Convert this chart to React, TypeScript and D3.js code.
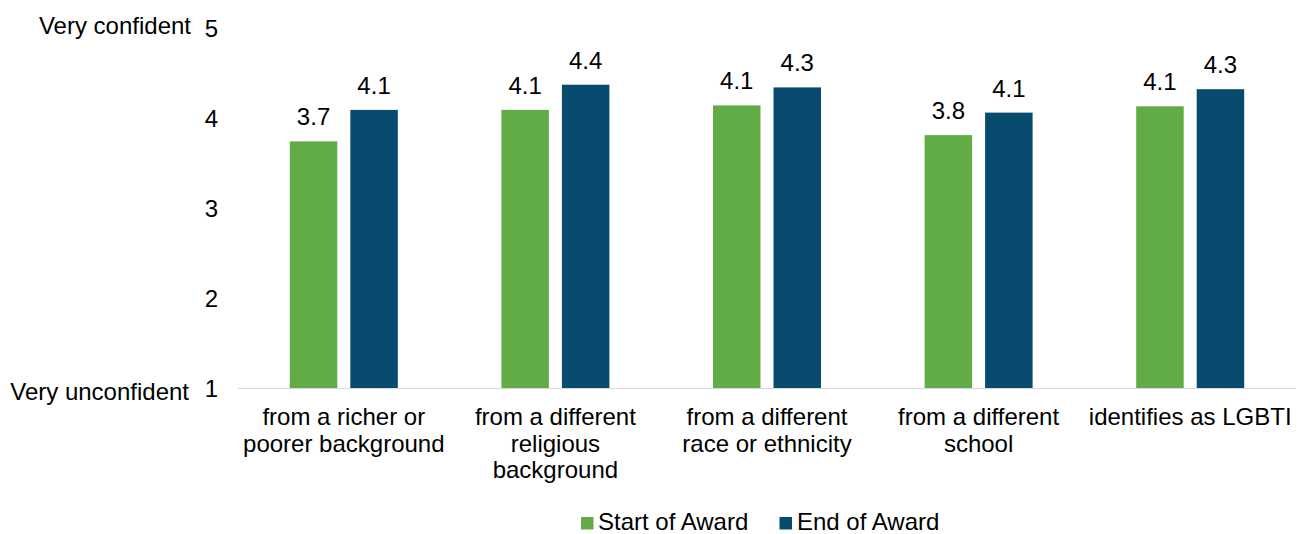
import React from "react";
import * as d3 from "d3";

const categories: string[][] = [
  ["from a richer or", "poorer background"],
  ["from a different", "religious", "background"],
  ["from a different", "race or ethnicity"],
  ["from a different", "school"],
  ["identifies as LGBTI"],
];
const seriesNames = ["Start of Award", "End of Award"];
const startValues = [3.74, 4.09, 4.14, 3.81, 4.13];
const endValues = [4.09, 4.37, 4.34, 4.06, 4.32];
const yTicks = [1, 2, 3, 4, 5];
const yEndLabels = ["Very unconfident", "Very confident"];
const colors = ["#62ac47", "#074b6e"];

const W = 1305;
const H = 534;
const FONT = "'Liberation Sans', Arial, sans-serif";
const FS = 24;

export default function App() {
  const keys = categories.map((_, i) => String(i));
  const x = d3.scaleBand<string>().domain(keys).range([238, 1296]).paddingInner(0).paddingOuter(0);
  const xs = d3.scaleBand<string>().domain(seriesNames).range([-54, 54]).paddingInner(0.215).paddingOuter(0);
  const y = d3.scaleLinear().domain([1, 5]).range([388, 28]);
  const fmt = d3.format(".1f");
  const series = [startValues, endValues];

  return (
    <svg width={W} height={H} style={{ position: "absolute", left: 0, top: 0, background: "#fff" }} fontFamily={FONT}>
      {/* y tick labels */}
      {yTicks.map((t) => (
        <text key={t} x={218} y={y(t) + 8.5} textAnchor="end" fontSize={FS} fill="#000">
          {t}
        </text>
      ))}
      <text x={189} y={400} textAnchor="end" fontSize={FS} fill="#000">{yEndLabels[0]}</text>
      <text x={191} y={34} textAnchor="end" fontSize={FS} fill="#000">{yEndLabels[1]}</text>

      {/* bars */}
      {keys.map((k, i) => {
        const cx = (x(k) as number) + x.bandwidth() / 2;
        return (
          <g key={k}>
            {seriesNames.map((s, j) => {
              const v = series[j][i];
              const bx = cx + (xs(s) as number);
              return (
                <g key={s}>
                  <rect x={bx} y={y(v)} width={xs.bandwidth()} height={y(1) - y(v)} fill={colors[j]} />
                  <text x={bx + xs.bandwidth() / 2} y={y(v) - 16} textAnchor="middle" fontSize={FS} fill="#000">
                    {fmt(v)}
                  </text>
                </g>
              );
            })}
            {categories[i].map((line, li) => (
              <text key={li} x={cx} y={425 + li * 26.7} textAnchor="middle" fontSize={FS} fill="#000">
                {line}
              </text>
            ))}
          </g>
        );
      })}

      {/* baseline */}
      <line x1={238} x2={1296} y1={y(1) + 0.5} y2={y(1) + 0.5} stroke="#d9d9d9" strokeWidth={1.2} />

      {/* legend */}
      <rect x={581} y={517} width={12.5} height={12.5} fill={colors[0]} />
      <text x={598} y={530} fontSize={FS} fill="#000">{seriesNames[0]}</text>
      <rect x={779.5} y={517} width={12.5} height={12.5} fill={colors[1]} />
      <text x={797} y={530} fontSize={FS} fill="#000">{seriesNames[1]}</text>
    </svg>
  );
}
